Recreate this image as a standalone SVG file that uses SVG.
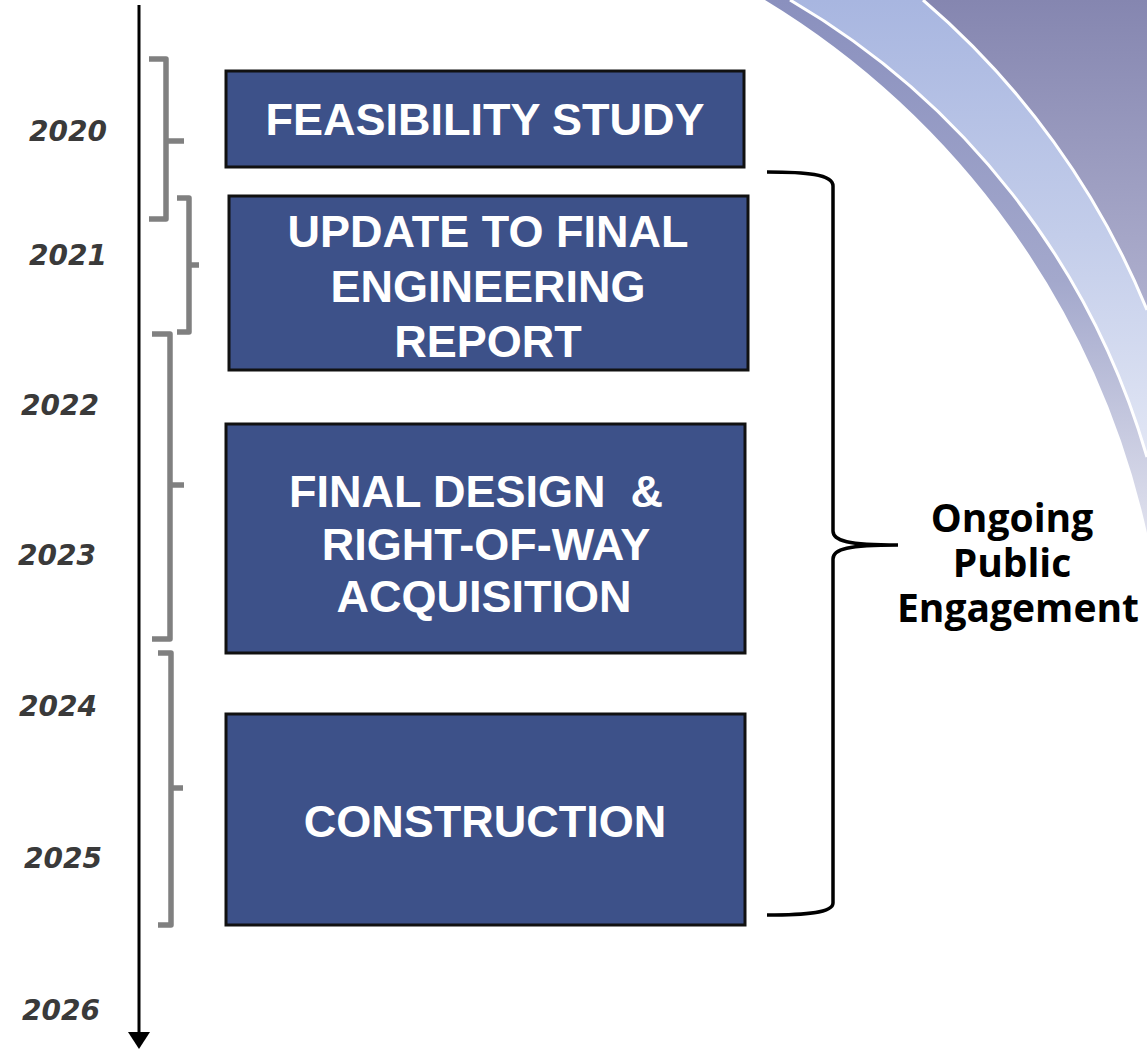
<svg xmlns="http://www.w3.org/2000/svg" width="1147" height="1050" viewBox="0 0 1147 1050">
<defs>
<linearGradient id="gDark" gradientUnits="userSpaceOnUse" x1="0" y1="0" x2="0" y2="560">
<stop offset="0" stop-color="#8a90be"/><stop offset="0.5" stop-color="#a3a8cc"/><stop offset="1" stop-color="#e6e7f1"/>
</linearGradient>
<linearGradient id="gLight" gradientUnits="userSpaceOnUse" x1="0" y1="0" x2="0" y2="470">
<stop offset="0" stop-color="#a8b6e0"/><stop offset="0.5" stop-color="#c3cdea"/><stop offset="1" stop-color="#e4e8f5"/>
</linearGradient>
<linearGradient id="gOuter" gradientUnits="userSpaceOnUse" x1="0" y1="0" x2="0" y2="320">
<stop offset="0" stop-color="#8586b0"/><stop offset="1" stop-color="#b0b1cf"/>
</linearGradient>
<style>
.box{fill:#3d5189;stroke:#111;stroke-width:3}
.boxtxt{font-family:"Liberation Sans",Arial,sans-serif;font-weight:bold;font-size:45px;fill:#fff;text-anchor:middle}
.year{font-family:"DejaVu Sans",Verdana,sans-serif;font-weight:bold;font-style:italic;font-size:28px;fill:#3a3a3a}
.bracket{fill:none;stroke:#808080;stroke-width:5.5;stroke-linejoin:round}
.brace{fill:none;stroke:#000;stroke-width:3.5}
.label{font-family:"Open Sans","Noto Sans",sans-serif;font-weight:bold;font-size:39px;fill:#000;text-anchor:middle}
.wline{fill:none;stroke:#fff;stroke-width:3}
</style>
</defs>
<rect width="1147" height="1050" fill="#fff"/>
<g id="background">
<path d="M765,0 A834.7,834.7 0 0 1 1147,533 L1147,0 Z" fill="url(#gDark)"/>
<path d="M790,0 A781.7,781.7 0 0 1 1147,457 L1147,0 Z" fill="url(#gLight)"/>
<path d="M923,0 A811.3,811.3 0 0 1 1147,310 L1147,0 Z" fill="url(#gOuter)"/>
<path class="wline" d="M790,0 A781.7,781.7 0 0 1 1147,457"/>
<path class="wline" d="M923,0 A811.3,811.3 0 0 1 1147,310"/>
</g>
<g id="timeline">
<line x1="139" y1="5" x2="139" y2="1036" stroke="#000" stroke-width="3"/>
<polygon points="128,1032 150,1032 139,1049" fill="#000"/>
</g>
<g id="years">
<text class="year" x="29" y="141">2020</text>
<text class="year" x="29" y="265">2021</text>
<text class="year" x="21" y="415">2022</text>
<text class="year" x="18" y="565">2023</text>
<text class="year" x="19" y="716">2024</text>
<text class="year" x="24" y="868">2025</text>
<text class="year" x="22" y="1020">2026</text>
</g>
<g id="connectors">
<path class="bracket" d="M149,59 L166,59 L166,219 L149,219 M166,141 L184,141"/>
<path class="bracket" d="M177,198 L189,198 L189,332 L177,332 M189,265 L199,265"/>
<path class="bracket" d="M152,334 L170,334 L170,639 L152,639 M170,485 L184,485"/>
<path class="bracket" d="M158,653 L171,653 L171,925 L158,925 M171,788 L183,788"/>
<path class="brace" d="M767,172 C805,172 833,174 833,186 L833,531 C833,541 848,545 898,545 C848,545 833,549 833,559 L833,903 C833,913 805,915 767,915"/>
</g>
<g id="node-feasibility">
<rect class="box" x="226" y="71" width="518" height="96"/>
<text class="boxtxt" x="485" y="135">FEASIBILITY STUDY</text>
</g>
<g id="node-update">
<rect class="box" x="229" y="196" width="519" height="174"/>
<text class="boxtxt" x="488" y="247">UPDATE TO FINAL</text>
<text class="boxtxt" x="488" y="302">ENGINEERING</text>
<text class="boxtxt" x="488" y="357">REPORT</text>
</g>
<g id="node-design">
<rect class="box" x="226" y="424" width="519" height="229"/>
<text class="boxtxt" x="476" y="507" xml:space="preserve">FINAL DESIGN  &amp;</text>
<text class="boxtxt" x="486" y="560">RIGHT-OF-WAY</text>
<text class="boxtxt" x="484" y="612">ACQUISITION</text>
</g>
<g id="node-construction">
<rect class="box" x="226" y="714" width="519" height="211"/>
<text class="boxtxt" x="485" y="837">CONSTRUCTION</text>
</g>
<g id="node-engagement">
<text class="label" x="1012" y="532">Ongoing</text>
<text class="label" x="1012" y="577">Public</text>
<text class="label" x="1018" y="622">Engagement</text>
</g>
</svg>
